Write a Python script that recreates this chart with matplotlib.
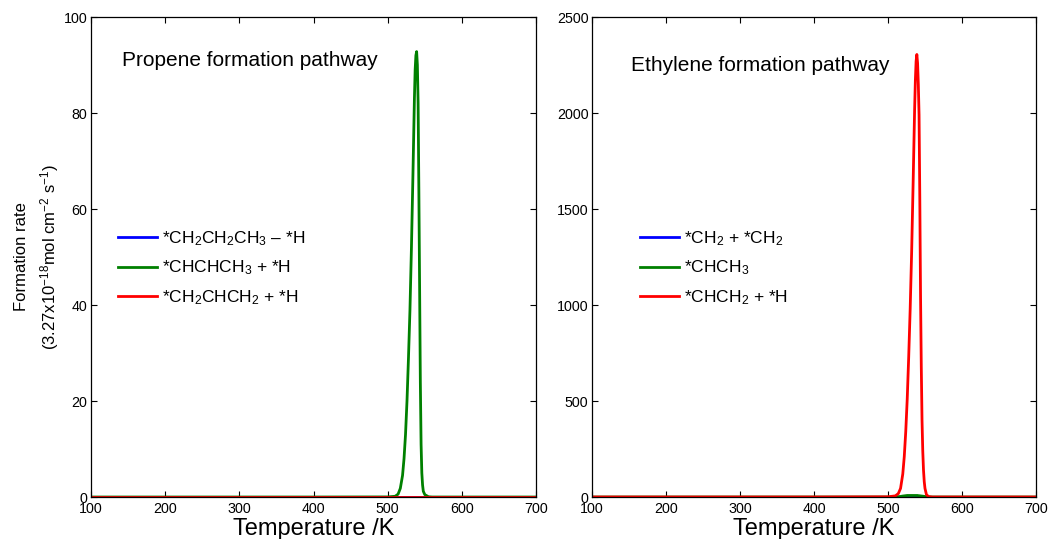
import matplotlib
matplotlib.use("Agg")
import matplotlib.pyplot as plt

plt.rcParams['font.family'] = ['Liberation Sans', 'DejaVu Sans']
plt.rcParams['mathtext.fontset'] = 'custom'
plt.rcParams['mathtext.rm'] = 'Liberation Sans'
plt.rcParams['mathtext.it'] = 'Liberation Sans:italic'
plt.rcParams['mathtext.bf'] = 'Liberation Sans:bold'
plt.rcParams['mathtext.default'] = 'regular'

# ---- Propene formation pathway (left panel) ----
propene_T = [100, 400, 500, 510, 514, 517, 520, 522, 524, 526, 528, 530, 532, 534,
             535, 536, 537, 538, 539, 540, 541, 542, 543, 544, 545, 546, 547, 548,
             550, 555, 560, 700]
propene_ch2ch2ch3 = [0] * len(propene_T)
propene_chchch3 = [0, 0, 0.02, 0.15, 0.6, 1.8, 4.5, 8, 13, 20, 29, 39, 52, 67,
                   75, 83, 89, 92, 92.8, 90, 82, 64, 44, 24, 11, 5, 2.5, 1.2,
                   0.5, 0.05, 0, 0]
propene_ch2chch2 = [0] * len(propene_T)
propene_labels = [r'*CH$_2$CH$_2$CH$_3$ – *H',
                  r'*CHCHCH$_3$ + *H',
                  r'*CH$_2$CHCH$_2$ + *H']

# ---- Ethylene formation pathway (right panel) ----
ethylene_T = [100, 400, 500, 510, 514, 517, 520, 522, 524, 526, 528, 530, 532, 534,
              535, 536, 537, 538, 539, 540, 541, 542, 543, 544, 545, 546, 547, 548,
              549, 550, 552, 555, 560, 700]
ethylene_ch2ch2 = [0] * len(ethylene_T)
ethylene_chch3 = [0, 0, 0, 0.5, 2, 3, 5, 6, 7, 8, 8, 8, 8, 8,
                  8, 8, 8, 8, 8, 8, 7, 7, 6, 6, 5, 5, 4, 4,
                  3, 3, 2, 1, 0, 0]
ethylene_chch2 = [0, 0, 1, 6, 18, 45, 120, 210, 340, 510, 730, 980, 1280, 1640,
                  1830, 2020, 2170, 2270, 2305, 2260, 2150, 1990, 1560, 1050, 680, 400, 240, 140,
                  80, 45, 12, 2, 0, 0]
ethylene_labels = [r'*CH$_2$ + *CH$_2$',
                   r'*CHCH$_3$',
                   r'*CHCH$_2$ + *H']

colors = ['#0000ff', '#008000', '#ff0000']

x_ticks = [100, 200, 300, 400, 500, 600, 700]
left_yticks = [0, 20, 40, 60, 80, 100]
right_yticks = [0, 500, 1000, 1500, 2000, 2500]

fig = plt.figure(figsize=(10.49, 5.39), dpi=100)
ax1 = fig.add_axes([0.0868, 0.0779, 0.4242, 0.8905])
ax2 = fig.add_axes([0.5643, 0.0779, 0.4233, 0.8905])


def style_axis(ax, yticks):
    ax.set_xlim(100, 700)
    ax.set_ylim(yticks[0], yticks[-1])
    ax.set_xticks(x_ticks)
    ax.set_yticks(yticks)
    ax.tick_params(direction='in', top=True, right=True, length=4,
                   width=0.8, labelsize=10.3)
    ax.tick_params(axis='x', pad=3.8)
    ax.tick_params(axis='y', pad=2.5)
    for sp in ax.spines.values():
        sp.set_linewidth(0.9)
    ax.set_xlabel('Temperature /K', fontsize=17, labelpad=1.5)


def add_legend(ax, x0):
    ax.legend(loc='center left', bbox_to_anchor=(x0, 0.477), frameon=False,
              fontsize=12.5, borderpad=0, borderaxespad=0, handlelength=2.25,
              handletextpad=0.3, labelspacing=0.64)


for ys, c, lab in zip([propene_ch2ch2ch3, propene_chchch3, propene_ch2chch2],
                      colors, propene_labels):
    ax1.plot(propene_T, ys, color=c, lw=2, label=lab)
style_axis(ax1, left_yticks)
ax1.set_ylabel('Formation rate\n(3.27x10$^{-18}$mol cm$^{-2}$ s$^{-1}$)',
               fontsize=12, labelpad=2, linespacing=1.55)
ax1.text(0.069, 0.91, 'Propene formation pathway', transform=ax1.transAxes,
         fontsize=15, va='center', ha='left')
add_legend(ax1, 0.061)

for ys, c, lab in zip([ethylene_ch2ch2, ethylene_chch3, ethylene_chch2],
                      colors, ethylene_labels):
    ax2.plot(ethylene_T, ys, color=c, lw=2, label=lab)
style_axis(ax2, right_yticks)
ax2.text(0.087, 0.9, 'Ethylene formation pathway', transform=ax2.transAxes,
         fontsize=15, va='center', ha='left')
add_legend(ax2, 0.108)

fig.savefig('out.png', dpi=100)
